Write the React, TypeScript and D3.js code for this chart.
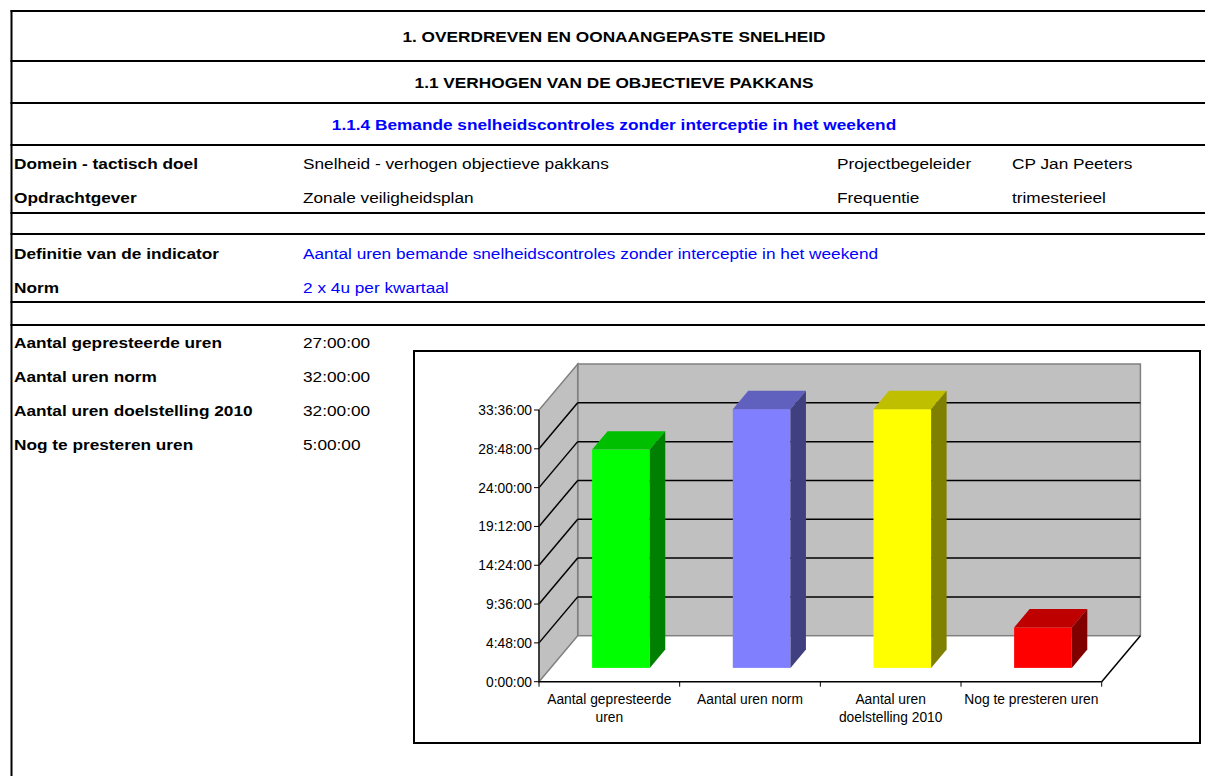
import React, { useEffect, useRef } from 'react';
import * as d3 from 'd3';

// Chart data
const categories = [
  'Aantal gepresteerde uren',
  'Aantal uren norm',
  'Aantal uren doelstelling 2010',
  'Nog te presteren uren',
];
const categoryLines = [
  ['Aantal gepresteerde', 'uren'],
  ['Aantal uren norm'],
  ['Aantal uren', 'doelstelling 2010'],
  ['Nog te presteren uren'],
];
const hours = [27, 32, 32, 5];
const barColors = ['#00FF00', '#8080FF', '#FFFF00', '#FF0000'];
const tickHours = [0, 4.8, 9.6, 14.4, 19.2, 24, 28.8, 33.6];
const tickLabels = ['0:00:00', '4:48:00', '9:36:00', '14:24:00', '19:12:00', '24:00:00', '28:48:00', '33:36:00'];

// Sheet texts
const headerTitles = [
  '1. OVERDREVEN EN OONAANGEPASTE SNELHEID',
  '1.1 VERHOGEN VAN DE OBJECTIEVE PAKKANS',
  '1.1.4 Bemande snelheidscontroles zonder interceptie in het weekend',
];
const infoLabels = ['Domein - tactisch doel', 'Opdrachtgever'];
const infoValues = ['Snelheid - verhogen objectieve pakkans', 'Zonale veiligheidsplan'];
const infoLabels2 = ['Projectbegeleider', 'Frequentie'];
const infoValues2 = ['CP Jan Peeters', 'trimesterieel'];
const defLabels = ['Definitie van de indicator', 'Norm'];
const defValues = ['Aantal uren bemande snelheidscontroles zonder interceptie in het weekend', '2 x 4u per kwartaal'];
const tableValues = ['27:00:00', '32:00:00', '32:00:00', '5:00:00'];

const W = 1205;
const H = 776;
const FONT = '"Liberation Sans", Arial, sans-serif';

const shade = (c: string, k: number) => {
  const rgb = d3.rgb(c);
  return d3.rgb(rgb.r * k, rgb.g * k, rgb.b * k).formatHex();
};

const App: React.FC = () => {
  const ref = useRef<SVGSVGElement>(null);

  useEffect(() => {
    if (!ref.current) return;
    const svg = d3.select(ref.current);
    svg.selectAll('*').remove();

    // ---- sheet grid ----
    const sx = 1.15;
    const cell = (x: number, y: number, t: string, opts: { bold?: boolean; color?: string; anchor?: string } = {}) =>
      svg.append('text')
        .attr('transform', `translate(${x},${y}) scale(${sx},1)`)
        .attr('font-family', FONT)
        .attr('font-size', 15)
        .attr('font-weight', opts.bold ? 'bold' : 'normal')
        .attr('fill', opts.color || '#000')
        .attr('text-anchor', opts.anchor || 'start')
        .text(t);

    const rowLines = [11, 61, 103, 145, 213, 234, 302, 325];
    svg.selectAll('.row-line')
      .data(rowLines)
      .enter()
      .append('line')
      .attr('x1', 10.5)
      .attr('x2', W)
      .attr('y1', d => d)
      .attr('y2', d => d)
      .attr('stroke', '#000')
      .attr('stroke-width', 2);
    svg.append('line')
      .attr('x1', 11.5).attr('x2', 11.5)
      .attr('y1', 10).attr('y2', H)
      .attr('stroke', '#000')
      .attr('stroke-width', 2);

    const headerY = [36, 82, 124];
    headerTitles.forEach((t, i) => {
      cell(614, headerY[i] + 5.5, t, { bold: true, anchor: 'middle', color: i === 2 ? '#0000FF' : '#000' });
    });

    const infoY = [163, 197];
    infoLabels.forEach((t, i) => {
      cell(14, infoY[i] + 5.5, t, { bold: true });
      cell(303, infoY[i] + 5.5, infoValues[i]);
      cell(837, infoY[i] + 5.5, infoLabels2[i]);
      cell(1012, infoY[i] + 5.5, infoValues2[i]);
    });

    const defY = [253, 287];
    defLabels.forEach((t, i) => {
      cell(14, defY[i] + 5.5, t, { bold: true });
      cell(303, defY[i] + 5.5, defValues[i], { color: '#0000FF' });
    });

    const valY = [342.5, 376.5, 410.5, 444.5];
    categories.forEach((t, i) => {
      cell(14, valY[i] + 5.5, t, { bold: true });
      cell(303, valY[i] + 5.5, tableValues[i]);
    });

    // ---- chart box ----
    svg.append('rect')
      .attr('x', 414)
      .attr('y', 351)
      .attr('width', 786)
      .attr('height', 392)
      .attr('fill', '#fff')
      .attr('stroke', '#000')
      .attr('stroke-width', 2);

    const x = d3.scaleBand()
      .domain(categories)
      .range([539, 1101.7]);
    const y = d3.scaleLinear()
      .domain([0, 33.6])
      .range([681.7, 410]);

    // 3D depth
    const dx = 38.7;
    const dy = -46;
    const yMax = tickHours[tickHours.length - 1];
    const xL = x.range()[0];
    const xR = x.range()[1];

    const g = svg.append('g');

    // back wall
    g.append('rect')
      .attr('x', xL + dx)
      .attr('y', y(yMax) + dy)
      .attr('width', xR - xL)
      .attr('height', y(0) - y(yMax))
      .attr('fill', '#C0C0C0')
      .attr('stroke', '#808080')
      .attr('stroke-width', 1.5);

    // side wall
    g.append('polygon')
      .attr('points', [
        [xL, y(0)], [xL + dx, y(0) + dy], [xL + dx, y(yMax) + dy], [xL, y(yMax)],
      ].map(p => p.join(',')).join(' '))
      .attr('fill', '#C0C0C0')
      .attr('stroke', '#808080')
      .attr('stroke-width', 1.5);

    const inner = tickHours.slice(1, -1);
    g.selectAll('.grid-back')
      .data(inner)
      .enter()
      .append('line')
      .attr('x1', xL + dx)
      .attr('x2', xR + dx)
      .attr('y1', d => y(d) + dy)
      .attr('y2', d => y(d) + dy)
      .attr('stroke', '#000')
      .attr('stroke-width', 1.5);
    g.selectAll('.grid-side')
      .data(inner)
      .enter()
      .append('line')
      .attr('x1', xL)
      .attr('x2', xL + dx)
      .attr('y1', d => y(d))
      .attr('y2', d => y(d) + dy)
      .attr('stroke', '#000')
      .attr('stroke-width', 1.5);

    // floor edges
    g.append('line')
      .attr('x1', xL).attr('x2', xR)
      .attr('y1', y(0)).attr('y2', y(0))
      .attr('stroke', '#000').attr('stroke-width', 1.5);
    g.append('line')
      .attr('x1', xR).attr('x2', xR + dx)
      .attr('y1', y(0)).attr('y2', y(0) + dy)
      .attr('stroke', '#000').attr('stroke-width', 1.5);

    // value axis
    g.append('line')
      .attr('x1', xL).attr('x2', xL)
      .attr('y1', y(yMax)).attr('y2', y(0))
      .attr('stroke', '#202020').attr('stroke-width', 1.5);
    g.selectAll('.y-tick')
      .data(tickHours)
      .enter()
      .append('line')
      .attr('x1', xL - 5).attr('x2', xL)
      .attr('y1', d => y(d)).attr('y2', d => y(d))
      .attr('stroke', '#000').attr('stroke-width', 1);
    g.selectAll('.y-label')
      .data(tickHours)
      .enter()
      .append('text')
      .attr('x', xL - 7)
      .attr('y', d => y(d) + 5)
      .attr('text-anchor', 'end')
      .attr('font-family', FONT)
      .attr('font-size', 13.8)
      .attr('fill', '#000')
      .text((d, i) => tickLabels[i]);

    // category ticks
    const bounds = categories.map(c => x(c)!).concat([xR]);
    g.selectAll('.x-tick')
      .data(bounds)
      .enter()
      .append('line')
      .attr('x1', d => d).attr('x2', d => d)
      .attr('y1', y(0)).attr('y2', y(0) + 5)
      .attr('stroke', '#000').attr('stroke-width', 1);

    // bars
    const bw = x.bandwidth();
    const barW = bw * 0.41;
    categories.forEach((c, i) => {
      const color = barColors[i];
      const l = x(c)! + bw / 2 - barW / 2 + 0.3 * dx;
      const r = l + barW;
      const bottom = y(0) + 0.3 * dy;
      const top = y(hours[i]) + 0.3 * dy;
      const ddx = 0.4 * dx;
      const ddy = 0.4 * dy;
      const bar = g.append('g');
      bar.append('rect')
        .attr('x', l)
        .attr('y', top)
        .attr('width', barW)
        .attr('height', bottom - top)
        .attr('fill', color);
      bar.append('polygon')
        .attr('points', [[l, top], [l + ddx, top + ddy], [r + ddx, top + ddy], [r, top]].map(p => p.join(',')).join(' '))
        .attr('fill', shade(color, 0.75));
      bar.append('polygon')
        .attr('points', [[r, top], [r + ddx, top + ddy], [r + ddx, bottom + ddy], [r, bottom]].map(p => p.join(',')).join(' '))
        .attr('fill', shade(color, 0.5));

      categoryLines[i].forEach((line, j) => {
        g.append('text')
          .attr('x', x(c)! + bw / 2)
          .attr('y', 704 + j * 17.5)
          .attr('text-anchor', 'middle')
          .attr('font-family', FONT)
          .attr('font-size', 13.8)
          .attr('fill', '#000')
          .text(line);
      });
    });
  }, []);

  return (
    <svg
      ref={ref}
      width={W}
      height={H}
      style={{ position: 'absolute', left: 0, top: 0, background: '#fff' }}
    />
  );
};

export default App;
